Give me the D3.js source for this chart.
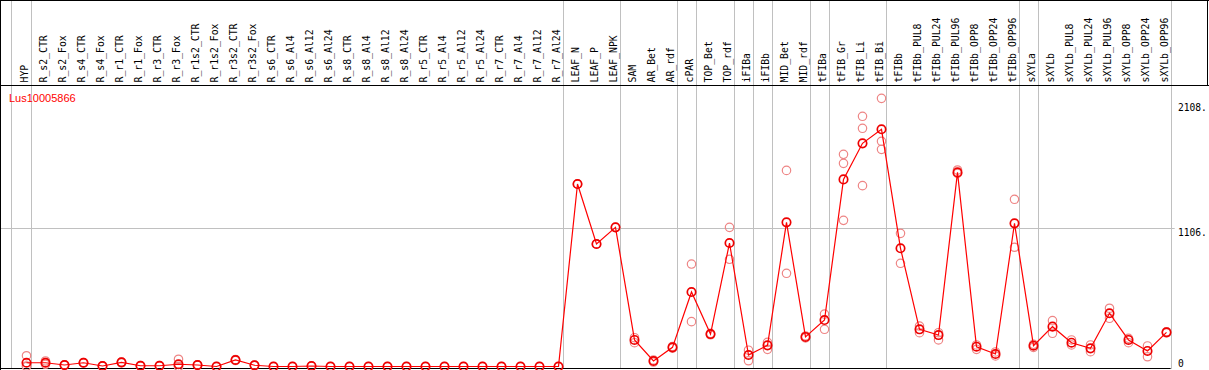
<!DOCTYPE html>
<html><head><meta charset="utf-8">
<script src="https://cdn.jsdelivr.net/npm/d3@7"></script>
<style>html,body{margin:0;padding:0;background:#fff;overflow:hidden}</style>
</head><body>
<script>
const title = "Lus10005866";
const categories = ["HYP","R_s2_CTR","R_s2_Fox","R_s4_CTR","R_s4_Fox","R_r1_CTR","R_r1_Fox","R_r3_CTR","R_r3_Fox","R_r1s2_CTR","R_r1s2_Fox","R_r3s2_CTR","R_r3s2_Fox","R_s6_CTR","R_s6_Al4","R_s6_Al12","R_s6_Al24","R_s8_CTR","R_s8_Al4","R_s8_Al12","R_s8_Al24","R_r5_CTR","R_r5_Al4","R_r5_Al12","R_r5_Al24","R_r7_CTR","R_r7_Al4","R_r7_Al12","R_r7_Al24","LEAF_N","LEAF_P","LEAF_NPK","SAM","AR_Bet","AR_rdf","cPAR","TOP_Bet","TOP_rdf","iFIBa","iFIBb","MID_Bet","MID_rdf","tFIBa","tFIB_Gr","tFIB_Li","tFIB_Bi","tFIBb","tFIBb_PUL8","tFIBb_PUL24","tFIBb_PUL96","tFIBb_OPP8","tFIBb_OPP24","tFIBb_OPP96","sXYLa","sXYLb","sXYLb_PUL8","sXYLb_PUL24","sXYLb_PUL96","sXYLb_OPP8","sXYLb_OPP24","sXYLb_OPP96"];
const means = [30,30,12,30,4,33,6,6,18,12,0,52,10,0,0,4,0,0,0,0,0,0,0,0,0,0,0,0,0,1457,978,1111,212,44,153,595,259,986,92,169,1151,236,371,1494,1782,1894,944,297,251,1550,158,100,1143,166,318,190,145,425,212,124,273];
const replicates = [[86,4,0],[44,18],[14,10],[32,28],[6,2],[36,30],[8,4],[8,4],[58,0,0],[14,10],[0],[56,48],[12,8],[0],[0],[4],[0],[0],[0],[0],[0],[0],[0],[0],[0],[0],[0],[0],[0],[1457],[978],[1111],[230,190],[52,36],[160,146],[818,358],[265,253],[1111,856],[130,46],[193,137],[1566,744],[244,228],[419,297],[1694,1622,1167],[1998,1902,1444],[2141,1798,1734],[1063,824],[323,270],[270,212],[1569,1542],[172,137],[116,84],[1335,952],[177,153],[366,265],[212,172],[172,118],[465,385],[225,190],[164,78],[278,268]];
const groupEnds = ["HYP","R_r7_Al24","LEAF_NPK","AR_rdf","cPAR","TOP_rdf","iFIBa","iFIBb","MID_rdf","tFIBa","tFIB_Bi","tFIBb_OPP96","sXYLa","sXYLb_OPP96"];
const tickValues = [0, 1106, 2108];
const tickLabels = ["0", "1106.", "2108."];

const W = 1209, H = 370;
const svg = d3.select("body").append("svg").attr("width", W).attr("height", H);

const x = d3.scalePoint().domain(categories).range([26.5, 1166.5]);
const step = x.step();
const y = d3.scaleLinear().domain([0, 2108]).range([366.5, 102.5]);
const headerBottom = 85.5, plotRight = 1170.7;

// vertical separators
const sepX = [x(categories[0]) - step + 3.2].concat(groupEnds.map(c => x(c) + 4.2));
svg.append("g").selectAll("line").data(sepX).join("line")
  .attr("x1", d => Math.round(d) + 0.5).attr("x2", d => Math.round(d) + 0.5)
  .attr("y1", 0).attr("y2", 369).attr("stroke", "#c0c0c0").attr("stroke-width", 1);

// horizontal gridline (middle tick)
svg.append("g").selectAll("line").data(tickValues.slice(1, 2)).join("line")
  .attr("x1", 0).attr("x2", plotRight + 4)
  .attr("y1", d => Math.round(y(d)) + 0.5).attr("y2", d => Math.round(y(d)) + 0.5)
  .attr("stroke", "#c0c0c0");

// borders
svg.append("line").attr("x1", 0).attr("x2", W).attr("y1", 0.5).attr("y2", 0.5).attr("stroke", "#000");
svg.append("line").attr("x1", 0).attr("x2", W).attr("y1", headerBottom).attr("y2", headerBottom).attr("stroke", "#000");
svg.append("line").attr("x1", 0.5).attr("x2", 0.5).attr("y1", 0).attr("y2", H).attr("stroke", "#000");
svg.append("line").attr("x1", 0).attr("x2", plotRight).attr("y1", 368.5).attr("y2", 368.5).attr("stroke", "#000");
svg.append("line").attr("x1", 1207.5).attr("x2", 1207.5).attr("y1", 0).attr("y2", headerBottom).attr("stroke", "#000");

// header labels
svg.append("g").selectAll("text").data(categories).join("text")
  .attr("transform", d => `translate(${x(d) + 1.2},82.5) rotate(-90)`)
  .attr("font-family", "DejaVu Sans Mono").attr("font-size", "9.8px").attr("fill", "#000")
  .text(d => d);

// y-axis labels
svg.append("g").selectAll("text").data(tickValues).join("text")
  .attr("x", 1178)
  .attr("y", (d, i) => i === 0 ? y(d) : y(d) + 8.5)
  .attr("font-family", "DejaVu Sans Mono").attr("font-size", "9.6px").attr("fill", "#000")
  .text((d, i) => tickLabels[i]);

// title
svg.append("text").attr("x", 9).attr("y", 101.5)
  .attr("font-family", "Liberation Sans").attr("font-size", "11px").attr("fill", "#ff0000")
  .text(title);

// replicates
const repData = [];
replicates.forEach((arr, i) => arr.forEach(v => repData.push({c: categories[i], v})));
svg.append("g").selectAll("circle").data(repData).join("circle")
  .attr("cx", d => x(d.c)).attr("cy", d => y(d.v)).attr("r", 4.2)
  .attr("fill", "none").attr("stroke", "#ee8585").attr("stroke-width", 1.2);

// mean line
const line = d3.line().x((d, i) => x(categories[i])).y(d => y(d));
svg.append("path").datum(means).attr("d", line)
  .attr("fill", "none").attr("stroke", "#ff0000").attr("stroke-width", 1.2);

// mean markers
svg.append("g").selectAll("circle").data(means).join("circle")
  .attr("cx", (d, i) => x(categories[i])).attr("cy", d => y(d)).attr("r", 4.2)
  .attr("fill", "none").attr("stroke", "#ee0000").attr("stroke-width", 1.7);
</script>
</body></html>
